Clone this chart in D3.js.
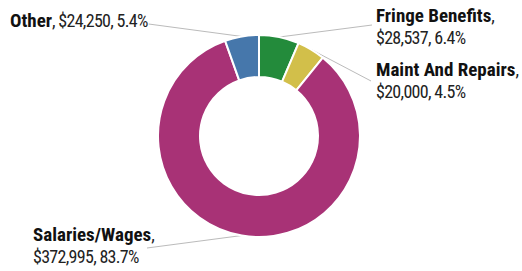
<!DOCTYPE html>
<html lang="en">
<head>
  <meta charset="UTF-8">
  <title>Expenses donut</title>
  <script src="https://d3js.org/d3.v7.min.js"></script>
  <style>
    * { padding: 0; margin: 0; box-sizing: border-box; }
    body { background: #fff; }
  </style>
</head>
<body>
  <div id="container"></div>
  <script>
    // data, clockwise from 12 o'clock
    const categories = ["Fringe Benefits", "Maint And Repairs", "Salaries/Wages", "Other"];
    const amounts = [28537, 20000, 372995, 24250];
    const colors = ["#238b3b", "#d2bf4a", "#a83276", "#4677ab"];

    const width = 522, height = 271;
    const cx = 259, cy = 136;
    const outerR = 101, innerR = 59;
    const font = "'Roboto Condensed', 'DejaVu Sans', sans-serif";

    const total = d3.sum(amounts);
    const data = categories.map((c, i) => ({ name: c, value: amounts[i], color: colors[i] }));

    const svg = d3.select("#container").append("svg")
      .attr("width", width)
      .attr("height", height)
      .attr("font-family", font);

    const pie = d3.pie().value(d => d.value).sort(null);
    const arcs = pie(data);
    const arc = d3.arc().innerRadius(innerR).outerRadius(outerR);

    const g = svg.append("g").attr("transform", `translate(${cx},${cy})`);
    g.selectAll("path")
      .data(arcs)
      .join("path")
      .attr("d", arc)
      .attr("fill", d => d.data.color)
      .attr("stroke", "#fff")
      .attr("stroke-width", 2);

    // label placement: text x, first baseline y, leader end point
    const labelPos = {
      "Fringe Benefits": { x: 376, y: 22, lx: 372, ly: 25, two: true },
      "Maint And Repairs": { x: 376, y: 76, lx: 371, ly: 81, two: true },
      "Salaries/Wages": { x: 33, y: 241, lx: 147, ly: 248, two: true },
      "Other": { x: 10, y: 27, lx: null, ly: 24, two: false }
    };

    const fmt = d3.format("$,");
    const pct = v => (v / total * 100).toFixed(1) + "%";

    const bold = s => s.append("tspan")
      .attr("font-weight", "bold").attr("font-size", 19).attr("fill", "#111");
    const plain = s => s.append("tspan")
      .attr("font-size", 18).attr("letter-spacing", "-0.7px").attr("fill", "#222");

    arcs.forEach(a => {
      const p = labelPos[a.data.name];
      const t = svg.append("text").attr("x", p.x).attr("y", p.y);
      bold(t).text(a.data.name);
      const nums = `${fmt(a.data.value)}, ${pct(a.data.value)}`;
      if (p.two) {
        plain(t).text(",");
        plain(svg.append("text").attr("x", p.x).attr("y", p.y + 22)).text(nums);
      } else {
        plain(t).text(", " + nums);
      }
      const lx = p.lx == null ? p.x + t.node().getComputedTextLength() + 1 : p.lx;
      const mid = (a.startAngle + a.endAngle) / 2;
      svg.insert("line", "g")
        .attr("x1", cx + outerR * Math.sin(mid))
        .attr("y1", cy - outerR * Math.cos(mid))
        .attr("x2", lx)
        .attr("y2", p.ly)
        .attr("stroke", "#bbb")
        .attr("stroke-width", 1);
    });
  </script>
</body>
</html>
